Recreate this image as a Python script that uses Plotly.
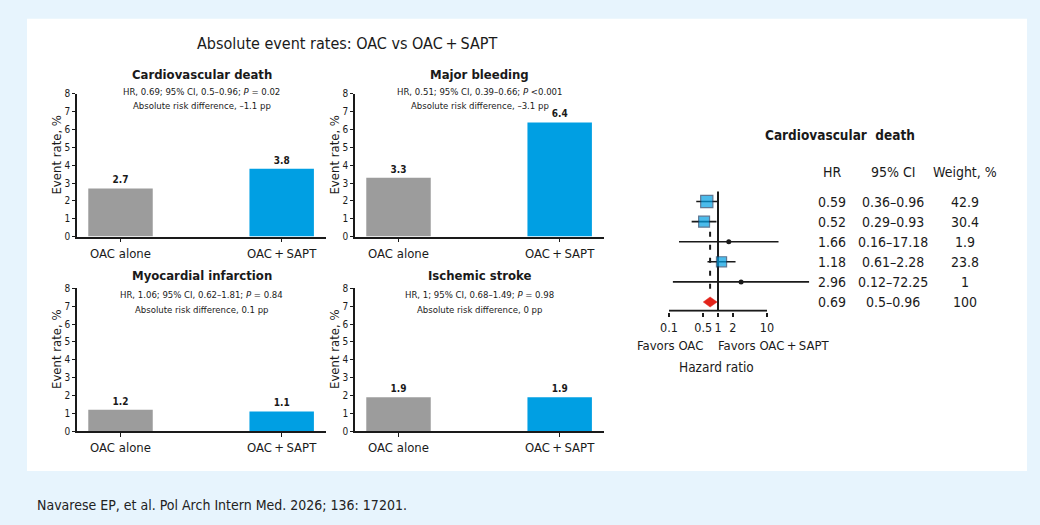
import plotly.graph_objects as go

W, H = 1040, 525
FONT = "Liberation Sans Narrow, Arial Narrow, DejaVu Sans Condensed, Roboto Condensed, Roboto, sans-serif"
INK = "#1a1a1a"
GRAY = "#9c9c9c"
BLUE = "#009fe3"

# ---- absolute event rates (bar panels) ----
outcomes = ["Cardiovascular death", "Major bleeding", "Myocardial infarction", "Ischemic stroke"]
groups = ["OAC alone", "OAC\u2009+\u2009SAPT"]
rate_oac = [2.7, 3.3, 1.2, 1.9]
rate_oac_sapt = [3.8, 6.4, 1.1, 1.9]
hr_lines = [
    "HR, 0.69; 95% CI, 0.5–0.96; <i>P</i> = 0.02",
    "HR, 0.51; 95% CI, 0.39–0.66; <i>P</i> <0.001",
    "HR, 1.06; 95% CI, 0.62–1.81; <i>P</i> = 0.84",
    "HR, 1; 95% CI, 0.68–1.49; <i>P</i> = 0.98",
]
ard_lines = [
    "Absolute risk difference, –1.1 pp",
    "Absolute risk difference, –3.1 pp",
    "Absolute risk difference, 0.1 pp",
    "Absolute risk difference, 0 pp",
]
rate_ticks = list(range(0, 9))

# ---- forest plot: cardiovascular death ----
study_hr = [0.59, 0.52, 1.66, 1.18, 2.96]
study_lo = [0.36, 0.29, 0.16, 0.61, 0.12]
study_hi = [0.96, 0.93, 17.18, 2.28, 72.25]
study_weight = [42.9, 30.4, 1.9, 23.8, 1]
pooled_hr, pooled_lo, pooled_hi, pooled_weight = 0.69, 0.5, 0.96, 100
hr_ticks = [0.1, 0.5, 1, 2, 10]


def px(x):
    return x / W


def py(y):
    return 1 - y / H


fig = go.Figure()

# panel geometry in pixels: (x left, x right, y top, y bottom)
panels = [(77, 326, 90, 236), (355, 604, 90, 236), (77, 326, 289, 435), (355, 604, 289, 435)]
title_y = [(70, 88, 102), (70, 88, 102), (276, 295, 311), (276, 295, 311)]

annotations = []
for i, name in enumerate(outcomes):
    k = "" if i == 0 else str(i + 1)
    x0, x1, y0, y1 = panels[i]
    fig.add_trace(go.Bar(
        x=groups, y=[rate_oac[i], rate_oac_sapt[i]],
        xaxis="x" + k, yaxis="y" + k,
        marker=dict(color=[GRAY, BLUE], line=dict(width=0)),
        width=0.4,
        texttemplate="<b>%{y:.1f}</b>", textposition="outside",
        textfont=dict(family=FONT, size=10, color=INK),
        cliponaxis=False, showlegend=False, hoverinfo="skip",
    ))
    fig.update_layout(**{
        "xaxis" + k: dict(
            domain=[px(x0), px(x1)], anchor="y" + k, range=[-0.27, 1.275],
            showline=True, linecolor=INK, linewidth=1.5, ticks="outside",
            ticklen=4, tickwidth=1.2, tickcolor=INK, showgrid=False, zeroline=False,
            tickfont=dict(family=FONT, size=13, color=INK), fixedrange=True,
        ),
        "yaxis" + k: dict(
            domain=[py(y1), py(y0)], anchor="x" + k, range=[0, 8],
            tickvals=rate_ticks, showline=True, linecolor=INK, linewidth=1.5,
            ticks="outside", ticklen=3, tickwidth=1.2, tickcolor=INK,
            showgrid=False, zeroline=False,
            tickfont=dict(family=FONT, size=10, color=INK), fixedrange=True,
        ),
    })
    cx = (x0 + x1) / 2
    ty, s1, s2 = title_y[i]
    annotations += [
        dict(x=px(cx), y=py(ty), text="<b>" + name + "</b>", font=dict(size=13)),
        dict(x=px(cx), y=py(s1), text=hr_lines[i], font=dict(size=9.5)),
        dict(x=px(cx), y=py(s2), text=ard_lines[i], font=dict(size=9.5)),
        dict(x=px(x0 - 20), y=py((y0 + y1) / 2 - 11), text="Event rate, %",
             textangle=-90, font=dict(size=13)),
    ]

annotations.append(dict(x=px(347), y=py(38), text="Absolute event rates: OAC vs OAC\u2009+\u2009SAPT",
                        font=dict(size=16)))

# ---- forest plot traces ----
rows = list(range(len(study_hr)))
pooled_row = len(study_hr)
axis_row = pooled_row + 0.44

ci_x, ci_y = [], []
for r, lo, hi in zip(rows, study_lo, study_hi):
    ci_x += [lo, hi, None]
    ci_y += [r, r, None]
fig.add_trace(go.Scatter(x=ci_x, y=ci_y, mode="lines", line=dict(color=INK, width=1.6),
                         xaxis="x5", yaxis="y5", showlegend=False, hoverinfo="skip"))

# pooled estimate reference (dashed) and line of no effect
fig.add_trace(go.Scatter(x=[pooled_hr, pooled_hr], y=[1.5, pooled_row - 0.3], mode="lines",
                         line=dict(color=INK, width=2, dash="5px,8px"),
                         xaxis="x5", yaxis="y5", showlegend=False, hoverinfo="skip"))
fig.add_trace(go.Scatter(x=[1, 1], y=[-0.5, axis_row], mode="lines",
                         line=dict(color=INK, width=2),
                         xaxis="x5", yaxis="y5", showlegend=False, hoverinfo="skip"))
# horizontal hazard-ratio axis line
fig.add_trace(go.Scatter(x=[hr_ticks[0], hr_ticks[-1]], y=[axis_row, axis_row], mode="lines",
                         line=dict(color=INK, width=2),
                         xaxis="x5", yaxis="y5", showlegend=False, hoverinfo="skip"))

big = [w >= 5 for w in study_weight]
fig.add_trace(go.Scatter(
    x=[h for h, b in zip(study_hr, big) if b],
    y=[r for r, b in zip(rows, big) if b],
    mode="markers",
    marker=dict(symbol="square", color=BLUE, line=dict(color="#1b3f66", width=1.2),
                size=[4 + w ** 0.5 * 1.25 for w, b in zip(study_weight, big) if b]),
    xaxis="x5", yaxis="y5", showlegend=False, hoverinfo="skip", cliponaxis=False,
))
fig.add_trace(go.Scatter(
    x=[h for h, b in zip(study_hr, big) if not b],
    y=[r for r, b in zip(rows, big) if not b],
    mode="markers", marker=dict(symbol="circle", color=INK, size=5),
    xaxis="x5", yaxis="y5", showlegend=False, hoverinfo="skip", cliponaxis=False,
))
fig.add_trace(go.Scatter(
    x=[pooled_lo, pooled_hr, pooled_hi, pooled_hr, pooled_lo],
    y=[pooled_row, pooled_row - 0.25, pooled_row, pooled_row + 0.25, pooled_row],
    mode="lines", fill="toself", fillcolor="#e2231a", line=dict(color="#e2231a", width=0.5),
    xaxis="x5", yaxis="y5", showlegend=False, hoverinfo="skip",
))

fig.update_layout(
    xaxis5=dict(
        type="log", domain=[px(655), px(815)], anchor="y5", range=[-1.2857, 1.9796],
        showline=False, showgrid=False, zeroline=False, ticks="outside", ticklen=4,
        tickwidth=2, tickcolor=INK, tickvals=hr_ticks, tickangle=0,
        ticktext=[f"{t:g}" for t in hr_ticks],
        tickfont=dict(family=FONT, size=12.5, color=INK), fixedrange=True,
    ),
    yaxis5=dict(
        domain=[py(313), py(185)], anchor="x5", range=[pooled_row + 0.49, -0.735],
        visible=False, fixedrange=True,
    ),
)

# table beside the forest plot
col_x = [832, 893, 965]
annotations.append(dict(x=px(840), y=py(132), text="<b>Cardiovascular\u00a0\u00a0death</b>",
                        font=dict(size=13.5)))
for cx, head in zip(col_x, ["HR", "95% CI", "Weight, %"]):
    annotations.append(dict(x=px(cx), y=py(170), text=head, font=dict(size=14)))
table_hr = study_hr + [pooled_hr]
table_lo = study_lo + [pooled_lo]
table_hi = study_hi + [pooled_hi]
table_w = study_weight + [pooled_weight]
for r, (h, lo, hi, w) in enumerate(zip(table_hr, table_lo, table_hi, table_w)):
    for cx, txt in zip(col_x, [f"{h:g}", f"{lo:g}–{hi:g}", f"{w:g}"]):
        annotations.append(dict(x=px(cx), xref="paper", y=r, yref="y5", text=txt,
                                font=dict(size=14)))

annotations += [
    dict(x=px(670), y=py(347), text="Favors OAC", font=dict(size=13)),
    dict(x=px(773), y=py(347), text="Favors OAC\u2009+\u2009SAPT", font=dict(size=13)),
    dict(x=px(716), y=py(369), text="Hazard ratio", font=dict(size=13.5)),
    dict(x=px(35), y=py(511), text="Navarese EP, et al. Pol Arch Intern Med. 2026; 136: 17201.",
         xanchor="left", font=dict(size=14, color="#222222")),
]

for a in annotations:
    a.setdefault("xref", "paper")
    a.setdefault("yref", "paper")
    a.setdefault("xanchor", "center")
    a["yanchor"] = "middle"
    a["showarrow"] = False
    f = a.setdefault("font", {})
    f.setdefault("family", FONT)
    f.setdefault("color", INK)

fig.update_layout(
    width=W, height=H, autosize=False,
    margin=dict(l=0, r=0, t=0, b=0),
    paper_bgcolor="#e7f4fd", plot_bgcolor="rgba(0,0,0,0)",
    font=dict(family=FONT, color=INK),
    bargap=0.2,
    annotations=annotations,
    shapes=[dict(type="rect", xref="paper", yref="paper", x0=px(27), x1=px(1027),
                 y0=py(476), y1=py(13), fillcolor="white", line=dict(width=0), layer="below")],
)

fig.write_html("out.html", config={"displayModeBar": False})
